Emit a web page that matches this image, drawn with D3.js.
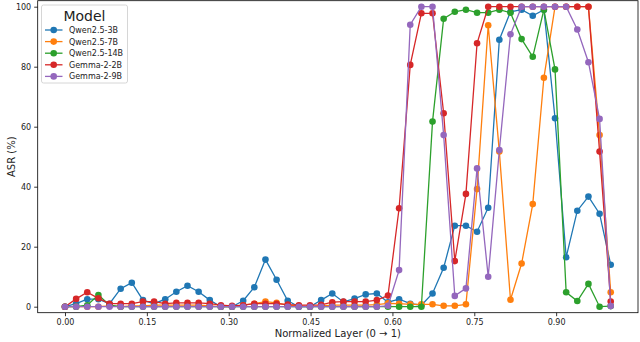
<!DOCTYPE html>
<html><head><meta charset="utf-8">
<script src="https://cdn.jsdelivr.net/npm/d3@7"></script>
<style>body{margin:0;background:#fff}svg{display:block}text{font-family:"DejaVu Sans",sans-serif}</style>
</head><body>
<svg id="c" width="640" height="342"></svg>
<script>
const seriesNames = ["Qwen2.5-3B","Qwen2.5-7B","Qwen2.5-14B","Gemma-2-2B","Gemma-2-9B"];
const colors = ["#1f77b4","#ff7f0e","#2ca02c","#d62728","#9467bd"];
const nLayers = 50;
const qwen3b = [0,1,2.5,2.5,1,6,8,2.2,1,2.5,5,7,5,2.2,0,0,2,6.5,15.7,9,2,0,0,2.2,4.4,1.6,2.7,4.1,4.4,1.5,2.5,1,0.5,4.4,13,27,27,25,33,89,98.3,99,97,99,62.8,16.5,32,36.7,31,14];
const qwen7b = [0,0,0,0,0.3,0,0.3,0.3,0.5,0.5,0.5,0.5,0.5,0.3,0,0,0.5,1,1.7,1.3,0.5,0.3,0,0.3,0.5,0.5,0.5,0.5,0.7,1.1,1,0.8,0.8,0.8,0.3,0.3,0.8,39.2,93.8,51.7,2.3,14.4,34.2,76.3,100,100,100,100,57.2,4.8];
const qwen14b = [0,0,0.5,3.9,0.5,0,0,0,0,0,0,0,0,0,0,0,0,0,0,0,0,0,0,0,0,0,0,0,0,0,0,0,0,61.7,96,98.3,99,98,98,99,98,89.2,83.3,99,79.1,4.8,1.9,7.6,0,0.2];
const gemma2b = [0,2.6,4.8,2.8,1,1,1,1.7,1.7,1,1.3,1.3,1.3,1,0.5,0.3,0.5,1,1,1,0.7,0.5,0.5,0.6,1.5,1.7,1.7,1.7,2.2,3.7,32.8,80.6,97.8,97.8,64.5,15.2,37.6,87.8,100,100,100,100,100,100,100,100,100,100,51.7,1.7];
const gemma9b = [0,0,0,0,0,0,0,0,0,0,0,0,0,0,0,0,0,0,0,0,0,0,0,0,0,0,0,0,0,0.3,12.2,94,100,100,57.2,3.6,6.1,46.1,10,52.2,90.8,100,100,100,100,100,92.4,81.5,62.6,0.2];
const xTicks = [0,0.15,0.30,0.45,0.60,0.75,0.90];
const yTicks = [0,20,40,60,80,100];

const allSeries = [qwen3b,qwen7b,qwen14b,gemma2b,gemma9b];
const xs = d3.range(nLayers).map(i => i/(nLayers-1));

const svg = d3.select("#c");
const L = 37.7, R = 638, T = 0.7, B = 312.7;
const x = d3.scaleLinear().domain([-0.05,1.05]).range([L,R]);
const y = d3.scaleLinear().domain([-2,102]).range([B,T]);

// axes
const xa = svg.append("g").attr("transform",`translate(0,${B})`)
  .call(d3.axisBottom(x).tickValues(xTicks).tickFormat(d3.format(".2f")).tickSizeOuter(0).tickSize(3.5).tickPadding(3));
const ya = svg.append("g").attr("transform",`translate(${L},0)`)
  .call(d3.axisLeft(y).tickValues(yTicks).tickFormat(d3.format("d")).tickSizeOuter(0).tickSize(3.5).tickPadding(3));
[xa,ya].forEach(g=>{
  g.select(".domain").remove();
  g.selectAll("line").attr("stroke","#000").attr("stroke-width",0.8);
  g.selectAll("text").attr("font-size",8).attr("fill","#222").attr("font-family","DejaVu Sans");
});

const line = d3.line().x((d,i)=>x(xs[i])).y(d=>y(d));
allSeries.forEach((s,si)=>{
  const g = svg.append("g");
  g.append("path").datum(s).attr("d",line).attr("fill","none").attr("stroke",colors[si]).attr("stroke-width",1.3);
  g.selectAll("circle").data(s).join("circle")
    .attr("cx",(d,i)=>x(xs[i])).attr("cy",d=>y(d)).attr("r",3.3).attr("fill",colors[si]);
});

// frame
svg.append("rect").attr("x",L).attr("y",T).attr("width",R-L).attr("height",B-T)
  .attr("fill","none").attr("stroke","#000").attr("stroke-width",0.8);

// labels
svg.append("text").attr("x",(L+R)/2).attr("y",337).attr("text-anchor","middle")
  .attr("font-size",10).attr("fill","#222").text("Normalized Layer (0 → 1)");
svg.append("text").attr("transform",`translate(15,${(T+B)/2}) rotate(-90)`).attr("text-anchor","middle")
  .attr("font-size",10).attr("fill","#222").text("ASR (%)");

// legend
const lg = svg.append("g");
lg.append("rect").attr("x",41.5).attr("y",5).attr("width",86).attr("height",78).attr("rx",2)
  .attr("fill","#fff").attr("fill-opacity",0.8).attr("stroke","#ccc").attr("stroke-width",0.8);
lg.append("text").attr("x",84.5).attr("y",20.5).attr("text-anchor","middle").attr("font-size",14).attr("fill","#222").text("Model");
seriesNames.forEach((n,i)=>{
  const yy = 30 + i*11.6;
  lg.append("line").attr("x1",45).attr("x2",62.5).attr("y1",yy).attr("y2",yy).attr("stroke",colors[i]).attr("stroke-width",1.3);
  lg.append("circle").attr("cx",53.7).attr("cy",yy).attr("r",3.3).attr("fill",colors[i]);
  lg.append("text").attr("x",69).attr("y",yy+3).attr("font-size",8).attr("fill","#222").text(n);
});
</script>
</body></html>
